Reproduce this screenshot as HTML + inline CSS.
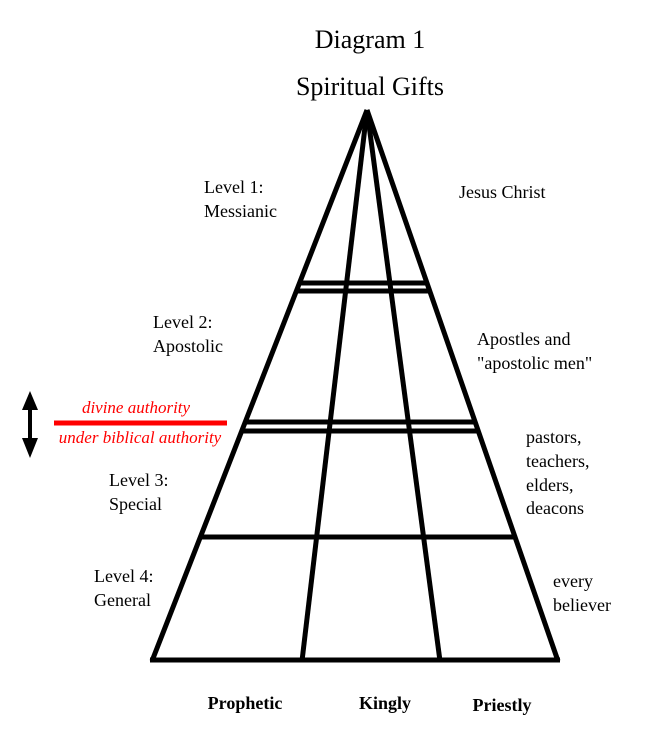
<!DOCTYPE html>
<html><head><style>
body{margin:0;background:#fff}
svg{display:block}
text{font-family:"Liberation Serif",serif;fill:#000}
</style></head><body>
<svg width="652" height="729" viewBox="0 0 652 729" xmlns="http://www.w3.org/2000/svg">
<g stroke="#000" stroke-width="5" fill="none" stroke-linecap="butt">
<line x1="367" y1="110" x2="152" y2="661"/>
<line x1="367" y1="110" x2="558" y2="661"/>
<line x1="367" y1="110" x2="302" y2="661"/>
<line x1="367" y1="110" x2="440" y2="661"/>
<line x1="150" y1="660" x2="560" y2="660"/>
<line x1="199" y1="537" x2="515" y2="537"/>
<line x1="245" y1="422" x2="475" y2="422"/>
<line x1="242" y1="431" x2="478" y2="431"/>
<line x1="299" y1="283" x2="427" y2="283"/>
<line x1="296" y1="291" x2="430" y2="291"/>
</g>
<line x1="54" y1="423" x2="227" y2="423" stroke="#f00" stroke-width="5"/>
<line x1="30" y1="404" x2="30" y2="442" stroke="#000" stroke-width="4"/>
<polygon points="30,391 22,410 38,410" fill="#000"/>
<polygon points="30,458 22,438 38,438" fill="#000"/>
<text x="370" y="48" font-size="26" text-anchor="middle">Diagram 1</text>
<text x="370" y="95" font-size="26" text-anchor="middle">Spiritual Gifts</text>
<g font-size="18">
<text x="204" y="193">Level 1:</text>
<text x="204" y="217">Messianic</text>
<text x="459" y="198">Jesus Christ</text>
<text x="153" y="328">Level 2:</text>
<text x="153" y="352">Apostolic</text>
<text x="477" y="345">Apostles and</text>
<text x="477" y="369">"apostolic men"</text>
<text x="526" y="443">pastors,</text>
<text x="526" y="467">teachers,</text>
<text x="526" y="491">elders,</text>
<text x="526" y="514">deacons</text>
<text x="109" y="486">Level 3:</text>
<text x="109" y="510">Special</text>
<text x="94" y="582">Level 4:</text>
<text x="94" y="606">General</text>
<text x="553" y="587">every</text>
<text x="553" y="611">believer</text>
</g>
<g font-size="17" font-style="italic" fill="#f00">
<text x="136" y="413" style="fill:#f00" text-anchor="middle">divine authority</text>
<text x="140" y="443" style="fill:#f00" text-anchor="middle">under biblical  authority</text>
</g>
<g font-size="18" font-weight="bold">
<text x="245" y="709" text-anchor="middle">Prophetic</text>
<text x="385" y="709" text-anchor="middle">Kingly</text>
<text x="502" y="711" text-anchor="middle">Priestly</text>
</g>
</svg>
</body></html>
